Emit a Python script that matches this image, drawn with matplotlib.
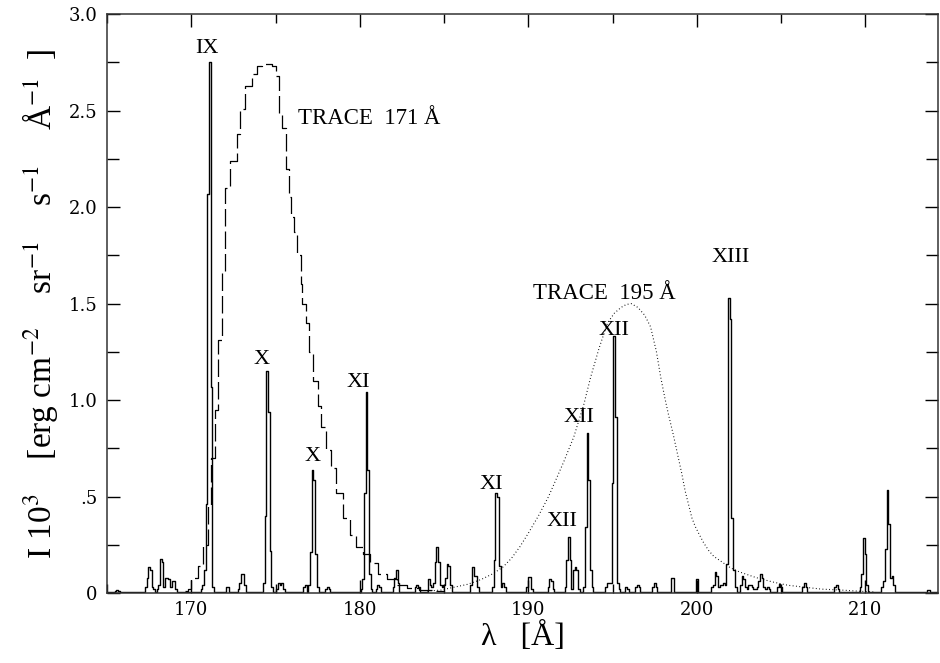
import numpy as np
from matplotlib import pyplot as plt
from matplotlib.ticker import MultipleLocator, FixedLocator

plt.rcParams['font.family'] = ['Liberation Serif', 'DejaVu Serif']
plt.rcParams['mathtext.fontset'] = 'stix'

# synthetic spectrum, 0.1 A bins: (first bin, bin values), rest is baseline
baseline = 0.006
features = [
    (165.5, [0.012, 0.015, 0.008]),
    (167.3, [0.03, 0.08, 0.135, 0.12, 0.03, 0.02]),
    (168.0, [0.02, 0.04, 0.175, 0.16, 0.03, 0.08, 0.08, 0.07, 0.03, 0.06, 0.06, 0.02]),
    (170.6, [0.02, 0.04, 0.12, 0.46, 2.07, 2.75, 1.07, 0.03]),
    (172.1, [0.03, 0.03]),
    (172.8, [0.02, 0.05, 0.10, 0.10, 0.04]),
    (174.3, [0.05, 0.40, 1.15, 0.94, 0.22, 0.03]),
    (175.1, [0.02, 0.05, 0.04, 0.05, 0.02]),
    (176.7, [0.03, 0.04]),
    (177.0, [0.04, 0.21, 0.64, 0.585, 0.20, 0.03]),
    (178.0, [0.02, 0.03, 0.02]),
    (180.1, [0.02, 0.07, 0.52, 1.04, 0.64, 0.10, 0.02]),
    (181.0, [0.02, 0.04, 0.03]),
    (182.0, [0.03, 0.08, 0.12, 0.05]),
    (183.3, [0.03, 0.04, 0.03]),
    (184.1, [0.07, 0.04, 0.03, 0.05, 0.16, 0.24, 0.16, 0.04, 0.03, 0.04, 0.08, 0.15, 0.14, 0.04]),
    (186.6, [0.04, 0.135, 0.09, 0.09, 0.03]),
    (187.9, [0.03, 0.17, 0.52, 0.50, 0.14, 0.03, 0.05, 0.03]),
    (189.9, [0.03, 0.085, 0.085, 0.02]),
    (191.2, [0.03, 0.07, 0.06, 0.02]),
    (192.2, [0.03, 0.17, 0.29, 0.17, 0.02, 0.12, 0.135, 0.12, 0.02]),
    (193.3, [0.03, 0.34, 0.83, 0.585, 0.12, 0.03]),
    (194.6, [0.03, 0.05, 0.05, 0.05, 0.57, 1.33, 0.91, 0.05, 0.02]),
    (195.8, [0.03, 0.02]),
    (196.4, [0.03, 0.04, 0.03]),
    (197.4, [0.03, 0.05, 0.03]),
    (198.5, [0.08, 0.08]),
    (200.0, [0.07]),
    (200.9, [0.03, 0.04, 0.11, 0.09, 0.03, 0.04, 0.04, 0.05, 0.04, 0.15, 1.53, 1.42, 0.39, 0.12, 0.03]),
    (202.6, [0.04, 0.09, 0.07, 0.03, 0.02, 0.04, 0.04, 0.03, 0.02, 0.02, 0.03, 0.06, 0.10, 0.08, 0.03, 0.02, 0.03, 0.02]),
    (204.8, [0.03, 0.045, 0.03]),
    (206.3, [0.03, 0.05, 0.03]),
    (208.2, [0.03, 0.04, 0.02]),
    (209.7, [0.03, 0.10, 0.285, 0.20, 0.04]),
    (211.0, [0.03, 0.06, 0.23, 0.535, 0.36, 0.08, 0.09, 0.04]),
    (213.7, [0.015, 0.015]),
]

# TRACE 171 response (scaled), step curve
t171_wl = [169.6, 169.8, 170.0, 170.4, 170.7, 171.0, 171.2, 171.4, 171.6, 171.8, 172.0, 172.3,
           172.7, 172.9, 173.2, 173.6, 173.9, 174.2, 174.8, 175.0, 175.2, 175.4, 175.6, 175.8,
           175.9, 176.1, 176.3, 176.5, 176.6, 176.8, 177.0, 177.2, 177.5, 177.7, 178.0, 178.3,
           178.6, 179.0, 179.4, 179.8, 180.2, 180.6, 181.1, 181.6, 182.2, 182.8, 183.5, 184.3, 185.0]
t171_val = [0.01, 0.02, 0.08, 0.14, 0.25, 0.45, 0.7, 0.95, 1.31, 1.67, 2.10, 2.24,
            2.38, 2.51, 2.63, 2.69, 2.73, 2.74, 2.73, 2.68, 2.48, 2.41, 2.2, 2.05,
            1.95, 1.87, 1.75, 1.6, 1.5, 1.4, 1.25, 1.1, 0.97, 0.86, 0.74, 0.65,
            0.52, 0.39, 0.30, 0.24, 0.20, 0.155, 0.10, 0.07, 0.04, 0.025, 0.015, 0.01, 0.005]

# TRACE 195 response (scaled)
t195_wl = [184.0, 184.8, 185.6, 186.4, 187.2, 187.9, 188.5, 189.0, 189.5, 190.0, 190.6, 191.2,
           191.7, 192.1, 192.7, 193.3, 193.7, 194.2, 194.7, 195.1, 195.5, 195.8, 196.1, 196.5,
           196.9, 197.25, 197.6, 197.85, 198.1, 198.3, 198.6, 198.85, 199.1, 199.3, 199.5, 199.7,
           199.9, 200.1, 200.4, 200.7, 201.0, 201.5, 202.0, 202.5, 203.5, 204.5, 205.4,
           206.4, 207.4, 208.6, 209.5, 210.5]
t195_val = [0.01, 0.015, 0.03, 0.045, 0.07, 0.10, 0.135, 0.18, 0.24, 0.31, 0.40, 0.50,
            0.60, 0.68, 0.81, 0.98, 1.12, 1.27, 1.40, 1.45, 1.48, 1.495, 1.50, 1.48,
            1.44, 1.38, 1.25, 1.12, 1.01, 0.93, 0.82, 0.72, 0.62, 0.53, 0.46, 0.39,
            0.345, 0.31, 0.26, 0.22, 0.19, 0.16, 0.13, 0.11, 0.08, 0.057, 0.04,
            0.03, 0.02, 0.015, 0.01, 0.005]

ion_labels = ['IX', 'X', 'X', 'XI', 'XI', 'XII', 'XII', 'XII', 'XIII']
ion_x = [170.95, 174.15, 177.17, 179.9, 187.8, 192.0, 193.0, 195.06, 202.0]
ion_y = [2.82, 1.21, 0.71, 1.09, 0.56, 0.37, 0.91, 1.36, 1.74]

ytick_vals = [0, 0.5, 1.0, 1.5, 2.0, 2.5, 3.0]
ytick_text = ['0', '.5', '1.0', '1.5', '2.0', '2.5', '3.0']

wl = np.round(np.arange(165.0, 214.45, 0.1), 1)
spec = np.full(len(wl), baseline)
for start, vals in features:
    i0 = int(round((start - 165.0) / 0.1))
    spec[i0:i0 + len(vals)] = vals

fig = plt.figure(figsize=(9.4, 6.63), dpi=100)
ax = fig.add_axes([0.1138, 0.1056, 0.884, 0.873])

ax.plot(wl, spec, color='black', lw=1.0, drawstyle='steps-mid')
ax.plot(t171_wl, t171_val, color='black', lw=0.9, drawstyle='steps-post', dashes=(14, 4))
ax.plot(t195_wl, t195_val, color='black', lw=0.8, dashes=(0.8, 2.2))

for s, x, y in zip(ion_labels, ion_x, ion_y):
    ax.text(x, y, s, ha='center', va='center', fontsize=16)
ax.text(176.34, 2.46, 'TRACE  171 Å', ha='left', va='center', fontsize=16.5)
ax.text(190.26, 1.55, 'TRACE  195 Å', ha='left', va='center', fontsize=16.5)

ax.set_xlim(165.0, 214.3)
ax.set_ylim(0, 3.0)
ax.xaxis.set_major_locator(MultipleLocator(10))
ax.xaxis.set_minor_locator(MultipleLocator(5))
ax.yaxis.set_major_locator(FixedLocator(ytick_vals))
ax.set_yticklabels(ytick_text)
ax.yaxis.set_minor_locator(MultipleLocator(0.25))
ax.tick_params(which='both', direction='in', top=True, right=True, width=1.0,
               labelsize=13, labelfontfamily='DejaVu Serif')
ax.tick_params(axis='x', which='major', length=9.5, pad=6)
ax.tick_params(axis='x', which='minor', length=6.5)
ax.tick_params(axis='y', which='major', length=9.5, pad=7)
ax.tick_params(axis='y', which='minor', length=8.5)
for sp in ax.spines.values():
    sp.set_linewidth(1.1)
    sp.set_color('#333333')

ax.set_xlabel('λ   [Å]', fontsize=23, labelpad=2)
ax.set_ylabel(r'I 10$^3$    [erg cm$^{-2}$    sr$^{-1}$    s$^{-1}$    Å$^{-1}$  ]',
              fontsize=24, labelpad=6)

fig.savefig('out.png', dpi=100)
